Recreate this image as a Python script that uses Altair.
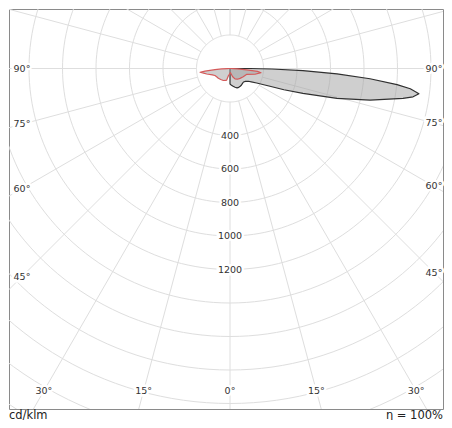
import altair as alt
import pandas as pd
import math

# ---------------- data ----------------
# C0 half-plane (black outline), gamma in degrees, intensity in cd/klm
C0_GAMMA = [0, 5, 10, 15, 20, 25, 30, 35, 40, 45, 50, 55, 58, 61.5, 66, 68.5,
            71.2, 74.4, 77.3, 80.2, 81.2, 82.4, 83.6, 84.5, 85.8, 87.1, 88.3,
            89.3, 90, 91]
C0_VALUE = [93, 100, 108, 116, 123, 124, 122, 120, 116, 114, 120, 133, 150, 181,
            261, 346, 460, 663, 857, 1048, 1106, 1138, 1083, 1002, 838, 640, 436,
            250, 120, 0]

# C90/C270 plane (red outline); negative gamma = left side
C90_GAMMA = [-90, -89, -87, -85.5, -84, -82.8, -80, -76.7, -70, -65, -57, -50,
             -40, -29, -20, -16, -11, -5, 0, 5, 10, 18, 25.5, 35, 45.6, 58, 71,
             77, 82.3, 84, 85, 87, 89, 90]
C90_VALUE = [5, 15, 50, 90, 150, 180, 160, 143, 112, 99, 93, 91,
             86, 82, 76, 72, 40, 35, 28, 25, 30, 52, 69, 78, 84, 93, 106,
             153, 187, 165, 100, 45, 15, 5]

RING_VALUES = [200, 400, 600, 800, 1000, 1200, 1400, 1600, 1800, 2000, 2200,
               2400, 2600]
SPOKE_ANGLES = list(range(0, 360, 15))
RING_LABELS = [400, 600, 800, 1000, 1200]
ANGLE_LABELS = [0, 15, 30, 45, 60, 75, 90]
UNIT_LABEL = "cd/klm"
EFF_LABEL = "η = 100%"

# ---------------- geometry of the drawing ----------------
PX = 33.5 / 200.0          # pixels per cd/klm
W, H = 434, 400            # plot area (the framed box)
CX, CY = 221, 59.5         # centre of the diagram inside the box (px)
xs = alt.Scale(domain=[-CX / PX, (W - CX) / PX], nice=False, zero=False)
ys = alt.Scale(domain=[-(H - CY) / PX, CY / PX], nice=False, zero=False)

GRID = "#dedede"
FONT = "DejaVu Sans"
TXT = "#333333"

# ---------------- tables ----------------
rings = pd.DataFrame([{"r": r, "a": a} for r in RING_VALUES for a in range(0, 362, 2)])
spokes = pd.DataFrame([{"a": a, "r": r} for a in SPOKE_ANGLES for r in (RING_VALUES[0], 5000)])

c0 = pd.DataFrame({"g": [0] + C0_GAMMA, "v": [0] + C0_VALUE})
c0["i"] = range(len(c0))
c90 = pd.DataFrame({"g": C90_GAMMA, "v": C90_VALUE})
c90["i"] = range(len(c90))

ring_lab = pd.DataFrame({"v": RING_LABELS, "t": [str(v) for v in RING_LABELS]})

rows = []
bottom_dy = (382 - CY) / PX    # vertical reach of bottom labels
for a in ANGLE_LABELS:
    for s in ((1,) if a == 0 else (-1, 1)):
        side_dx = (208 if s < 0 else 204) / PX   # horizontal reach of side labels
        if a >= 45:
            x = s * side_dx
            y = -side_dx / math.tan(math.radians(a)) if a < 90 else 0.0
        else:
            y = -bottom_dy
            x = s * bottom_dy * math.tan(math.radians(a))
        rows.append({"x": x, "y": y, "t": f"{a}°"})
ang_lab = pd.DataFrame(rows)

polar_x = "datum.v * sin(datum.g * PI / 180)"
polar_y = "-datum.v * cos(datum.g * PI / 180)"

X = alt.X("x:Q", scale=xs, axis=None)
Y = alt.Y("y:Q", scale=ys, axis=None)

# ---------------- layers ----------------
ring_layer = alt.Chart(rings).transform_calculate(
    x="datum.r * sin(datum.a * PI / 180)", y="-datum.r * cos(datum.a * PI / 180)"
).mark_line(color=GRID, strokeWidth=1, clip=True).encode(
    x=X, y=Y, detail="r:N", order="a:Q")

spoke_layer = alt.Chart(spokes).transform_calculate(
    x="datum.r * sin(datum.a * PI / 180)", y="-datum.r * cos(datum.a * PI / 180)"
).mark_line(color=GRID, strokeWidth=1, clip=True).encode(
    x=X, y=Y, detail="a:N", order="r:Q")

c0_layer = alt.Chart(c0).transform_calculate(x=polar_x, y=polar_y).mark_line(
    interpolate="linear-closed", fill="#a0a0a0", fillOpacity=0.5,
    stroke="#303030", strokeWidth=1.2, strokeJoin="round"
).encode(x=X, y=Y, order="i:Q")

c90_layer = alt.Chart(c90).transform_calculate(x=polar_x, y=polar_y).mark_line(
    interpolate="linear-closed", fill="#a0a0a0", fillOpacity=0.5,
    stroke="#d45a5a", strokeWidth=1.2, strokeJoin="round"
).encode(x=X, y=Y, order="i:Q")

ring_text = alt.Chart(ring_lab).transform_calculate(x="0", y="-datum.v").encode(
    x=X, y=Y, text="t:N")
ring_text_layers = ring_text.mark_text(
    font=FONT, fontSize=9.5, stroke="white", strokeWidth=5, color="white",
    align="center", baseline="middle") + ring_text.mark_text(
    font=FONT, fontSize=9.5, color=TXT, align="center", baseline="middle")

ang_text = alt.Chart(ang_lab).encode(x=X, y=Y, text="t:N")
ang_text_layers = ang_text.mark_text(
    font=FONT, fontSize=9.5, stroke="white", strokeWidth=5, color="white",
    align="center", baseline="middle") + ang_text.mark_text(
    font=FONT, fontSize=9.5, color=TXT, align="center", baseline="middle")

foot = pd.DataFrame({"t": [UNIT_LABEL, EFF_LABEL], "side": ["l", "r"]})
unit_text = alt.Chart(foot).transform_filter("datum.side == 'l'").mark_text(
    font=FONT, fontSize=11.5, color="#222222", align="left", baseline="alphabetic"
).encode(x=alt.value(0), y=alt.value(409.5), text="t:N")
eff_text = alt.Chart(foot).transform_filter("datum.side == 'r'").mark_text(
    font=FONT, fontSize=11.5, color="#222222", align="right", baseline="alphabetic"
).encode(x=alt.value(W), y=alt.value(409.5), text="t:N")

chart = alt.layer(
    ring_layer, spoke_layer, c0_layer, c90_layer,
    ring_text_layers, ang_text_layers, unit_text, eff_text,
).properties(
    width=W, height=H,
    autosize=alt.AutoSizeParams(type="none"),
    padding={"left": 1, "top": 1, "right": 1, "bottom": 11},
).configure_view(stroke="#8a8a8a", strokeWidth=1)

chart.save("out.html", embed_options={"renderer": "svg", "actions": False})
